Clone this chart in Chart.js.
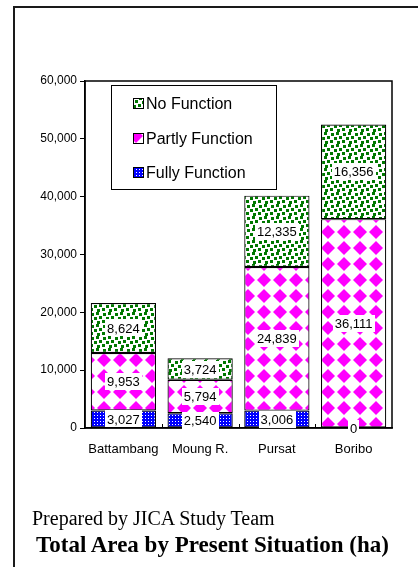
<!DOCTYPE html>
<html>
<head>
<meta charset="utf-8">
<script src="https://cdn.jsdelivr.net/npm/chart.js@4.4.0/dist/chart.umd.min.js"></script>
<style>
  html, body { margin: 0; padding: 0; background: #fff; }
  body { width: 418px; height: 567px; position: relative; overflow: hidden; }
  #frame { position: absolute; left: 13px; top: 6px; width: 420px; height: 580px;
           border-left: 2px solid #1a1a1a; border-top: 2px solid #1a1a1a; }
  #chart { position: absolute; left: 0; top: 0; }
  .note { position: absolute; left: 32px; top: 508px; font: 20px "Liberation Serif", "Times New Roman", serif;
          line-height: 20px; color: #000; white-space: nowrap; }
  .title { position: absolute; left: 36px; top: 533px; font: bold 23px "Liberation Serif", "Times New Roman", serif;
           line-height: 23px; color: #000; white-space: nowrap; }
</style>
</head>
<body>
<div id="frame"></div>
<canvas id="chart" width="418" height="567"></canvas>
<div class="note">Prepared by JICA Study Team</div>
<div class="title">Total Area by Present Situation (ha)</div>
<script>
// Irrigated area (ha) per scheme, split by present functioning status
const categories = ['Battambang', 'Moung R.', 'Pursat', 'Boribo'];
const fullyFunction = [3027, 2540, 3006, 0];
const partlyFunction = [9953, 5794, 24839, 36111];
const noFunction = [8624, 3724, 12335, 16356];
const yTicks = [0, 10000, 20000, 30000, 40000, 50000, 60000];

// Hatch-style fills
function makePattern(size, draw) {
  const c = document.createElement('canvas');
  c.width = size; c.height = size;
  const g = c.getContext('2d');
  draw(g, size);
  return g.createPattern(c, 'repeat');
}
const ctx0 = document.getElementById('chart').getContext('2d');

// Confetti squares (wrapped around the tile edges)
const greenConfetti = makePattern(12, (g, s) => {
  g.fillStyle = '#fff'; g.fillRect(0, 0, s, s);
  g.fillStyle = '#007800';
  const sq = 3;
  [[0, 0], [7, 1], [3, 4], [10, 5], [6, 8], [1, 9]].forEach(([x, y]) => {
    for (const dx of [0, -s]) for (const dy of [0, -s]) g.fillRect(x + dx, y + dy, sq, sq);
  });
});
const magentaDiamonds = makePattern(16, (g, s) => {
  g.fillStyle = '#fff'; g.fillRect(0, 0, s, s);
  g.fillStyle = '#ff00ff';
  g.beginPath();
  g.moveTo(8, 1); g.lineTo(15, 8); g.lineTo(8, 15); g.lineTo(1, 8); g.closePath();
  g.fill();
});
const blueDots = makePattern(3, (g, s) => {
  g.fillStyle = '#0000ff'; g.fillRect(0, 0, s, s);
  g.fillStyle = '#ffffff'; g.fillRect(1, 1, 1, 1);
});

// Plot frame, inner category ticks
const framePlugin = {
  id: 'frameBox',
  afterDatasetsDraw(chart) {
    const { ctx, chartArea: a, scales } = chart;
    ctx.save();
    ctx.strokeStyle = '#000';
    ctx.lineWidth = 1.5;
    ctx.strokeRect(a.left, a.top, a.right - a.left, a.bottom - a.top);
    ctx.lineWidth = 1;
    const xs = scales.x;
    for (let i = 0; i < categories.length - 1; i++) {
      const bx = Math.round((xs.getPixelForValue(i) + xs.getPixelForValue(i + 1)) / 2) + 0.5;
      ctx.beginPath(); ctx.moveTo(bx, a.bottom); ctx.lineTo(bx, a.bottom - 4); ctx.stroke();
    }
    ctx.restore();
  }
};

// Value labels on white boxes, centred in each segment
const valueLabels = {
  id: 'valueLabels',
  afterDatasetsDraw(chart) {
    const { ctx } = chart;
    ctx.save();
    ctx.font = '13px "Liberation Sans", Arial, sans-serif';
    ctx.textAlign = 'center';
    ctx.textBaseline = 'middle';
    chart.data.datasets.forEach((ds, di) => {
      const meta = chart.getDatasetMeta(di);
      meta.data.forEach((bar, i) => {
        const v = ds.data[i];
        const txt = v.toLocaleString('en-US');
        const cx = bar.x;
        const cy = (bar.y + bar.base) / 2;
        const w = ctx.measureText(txt).width + 4;
        const h = 17;
        ctx.fillStyle = '#fff';
        ctx.fillRect(Math.round(cx - w / 2), Math.round(cy - h / 2), Math.round(w), h);
        ctx.fillStyle = '#000';
        ctx.fillText(txt, cx, cy + 1);
      });
    });
    ctx.restore();
  }
};

// Boxed legend inside the plot area, top series first
const boxLegend = {
  id: 'boxLegend',
  afterDraw(chart) {
    const { ctx } = chart;
    const box = { x: 111, y: 85, w: 165, h: 104 };
    ctx.save();
    ctx.fillStyle = '#fff';
    ctx.fillRect(box.x, box.y, box.w, box.h);
    ctx.strokeStyle = '#000';
    ctx.lineWidth = 1;
    ctx.strokeRect(box.x + 0.5, box.y + 0.5, box.w, box.h);
    const rows = [104, 139, 173];
    const order = chart.data.datasets.slice().reverse();
    ctx.font = '16px "Liberation Sans", Arial, sans-serif';
    ctx.textBaseline = 'middle';
    ctx.textAlign = 'left';
    order.forEach((ds, k) => {
      const y = rows[k];
      ctx.fillStyle = ds.backgroundColor;
      ctx.fillRect(134, y - 5, 9, 9);
      ctx.strokeStyle = '#000';
      ctx.strokeRect(133.5, y - 5.5, 10, 10);
      ctx.fillStyle = '#000';
      ctx.fillText(ds.label, 146, y + 1);
    });
    ctx.restore();
  }
};

new Chart(ctx0, {
  type: 'bar',
  data: {
    labels: categories,
    datasets: [
      { label: 'Fully Function', data: fullyFunction, backgroundColor: blueDots },
      { label: 'Partly Function', data: partlyFunction, backgroundColor: magentaDiamonds },
      { label: 'No Function', data: noFunction, backgroundColor: greenConfetti }
    ].map(d => Object.assign(d, {
      borderColor: '#000', borderWidth: 1.2, borderSkipped: false,
      categoryPercentage: 1, barPercentage: 0.85
    }))
  },
  options: {
    responsive: false,
    animation: false,
    events: [],
    layout: { padding: { top: 81, right: 26, left: 0, bottom: 0 } },
    plugins: { legend: { display: false }, tooltip: { enabled: false } },
    scales: {
      x: {
        stacked: true,
        grid: { display: false, drawTicks: false },
        border: { display: true, color: '#000', width: 1.5 },
        ticks: { color: '#000', padding: 14, font: { family: '"Liberation Sans", Arial, sans-serif', size: 13 } },
        afterFit(s) { s.height = 139; }
      },
      y: {
        stacked: true,
        min: 0, max: 60000,
        afterBuildTicks(s) { s.ticks = yTicks.map(v => ({ value: v })); },
        grid: { drawOnChartArea: false, drawTicks: true, tickLength: 5, color: '#000' },
        border: { display: true, color: '#000', width: 1.5 },
        ticks: { color: '#000', padding: 3, font: { family: '"Liberation Sans", Arial, sans-serif', size: 12 },
                 callback: v => v.toLocaleString('en-US') },
        afterFit(s) { s.width = 85; }
      }
    }
  },
  plugins: [framePlugin, valueLabels, boxLegend]
});
</script>
</body>
</html>
